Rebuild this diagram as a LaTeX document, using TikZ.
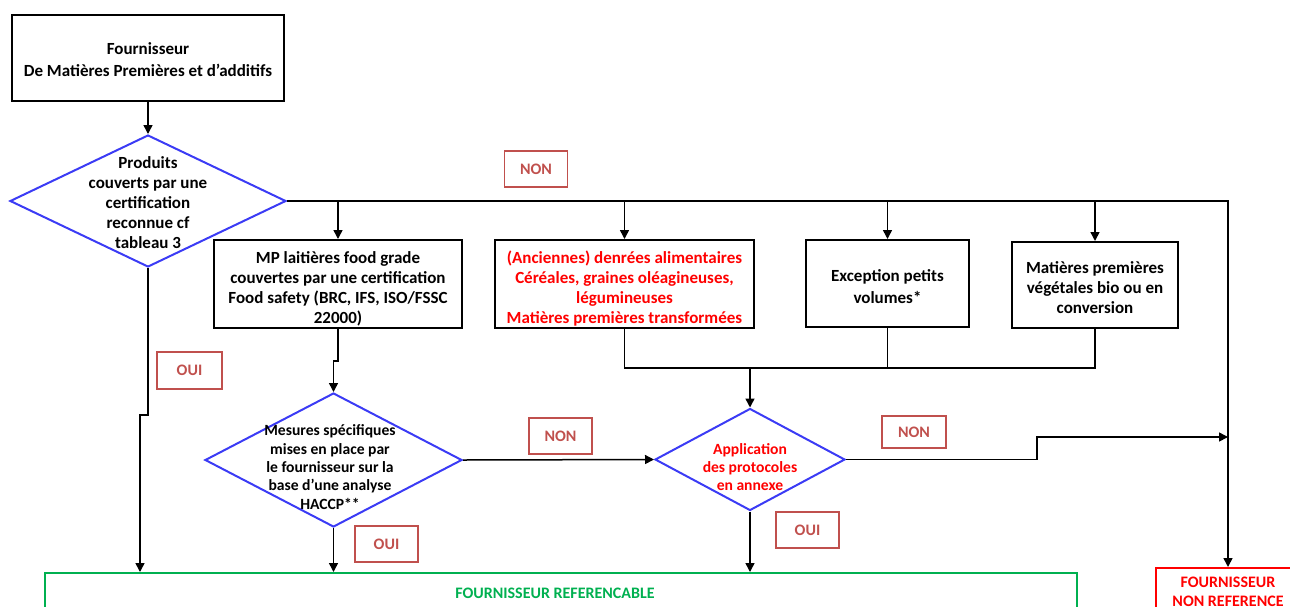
\documentclass[tikz,border=0pt]{standalone}
\usepackage{fontspec}
\setmainfont{Carlito}
\usetikzlibrary{shapes.geometric,arrows.meta}
\definecolor{diablue}{HTML}{3B3BF5}
\definecolor{labred}{HTML}{C0504D}
\definecolor{okgreen}{HTML}{00B050}
\definecolor{nored}{HTML}{FF0000}
\begin{document}
\begin{tikzpicture}[x=0.5pt,y=-0.5pt,
  box/.style={draw,line width=1pt,inner sep=0},
  btext/.style={align=center,font=\bfseries\fontsize{8.5}{10}\selectfont,inner sep=0},
  dia/.style={draw=diablue,shape=diamond,line width=1pt,inner sep=0},
  dtext/.style={align=center,font=\bfseries\fontsize{8.5}{10}\selectfont,inner sep=0},
  lab/.style={draw=labred,text=labred,line width=0.9pt,font=\bfseries\fontsize{8}{9}\selectfont,inner sep=0},
  arr/.style={-{Triangle[length=4.5pt,width=4.5pt]}},
  con/.style={line width=0.75pt}
]
\useasboundingbox (0,0) rectangle (1290,606);
\clip (0,0) rectangle (1290,606);

% boxes
\node[box,minimum width=136pt,minimum height=43pt] (b1) at (148,58) {};
\node[btext,font=\bfseries\fontsize{8.5}{11}\selectfont] (b1t) at (148,60)
  {Fournisseur\\De Matières Premières et d’additifs};
\node[dia,minimum width=138pt,minimum height=66pt] (d1) at (148,201) {};
\node[dtext] (d1t) at (148,203) {Produits\\couverts par une\\certification\\reconnue cf\\tableau 3};

\node[box,minimum width=124pt,minimum height=44pt] (b2) at (338,284) {};
\node[btext] (b2t) at (338,289)
  {MP laitières food grade\\couvertes par une certification\\Food safety (BRC, IFS, ISO/FSSC\\22000)};
\node[box,minimum width=129.5pt,minimum height=44pt] (b3) at (624.5,284) {};
\node[btext,text=nored] (b3t) at (624.5,289)
  {(Anciennes) denrées alimentaires\\Céréales, graines oléagineuses,\\légumineuses\\Matières premières transformées};
\node[box,minimum width=81.5pt,minimum height=43.5pt] (b4) at (887.5,283.5) {};
\node[btext,font=\bfseries\fontsize{8.5}{11}\selectfont] (b4t) at (887.5,287)
  {Exception petits\\volumes*};
\node[box,minimum width=83pt,minimum height=43pt] (b5) at (1095,285) {};
\node[btext] (b5t) at (1095,288)
  {Matières premières\\végétales bio ou en\\conversion};

\node[dia,minimum width=128.5pt,minimum height=67pt] (d2) at (333.5,460) {};
\node[dtext,font=\bfseries\fontsize{7.8}{9.2}\selectfont] (d2t) at (330,467)
  {Mesures spécifiques\\mises en place par\\le fournisseur sur la\\base d’une analyse\\HACCP**};
\node[dia,minimum width=95pt,minimum height=51pt] (d3) at (750,459.5) {};
\node[dtext,text=nored,font=\bfseries\fontsize{7.8}{9.2}\selectfont] (d3t) at (750,467)
  {Application\\des protocoles\\en annexe};

\node[draw=okgreen,line width=1pt,minimum width=516pt,minimum height=40pt,anchor=north west,inner sep=0] (g) at (44,572) {};
\node[text=okgreen,font=\bfseries\fontsize{8}{9}\selectfont] (gt) at (555,593) {FOURNISSEUR REFERENCABLE};
\node[draw=nored,line width=1pt,minimum width=73pt,minimum height=40pt,anchor=north west,inner sep=0] (nr) at (1155,567) {};
\node[text=nored,align=center,font=\bfseries\fontsize{8}{9.5}\selectfont,anchor=north] (nrt) at (1228,570) {FOURNISSEUR\\NON REFERENCE};

% labels
\node[lab,minimum width=31.5pt,minimum height=18pt] (l1) at (536,169) {NON};
\node[lab,minimum width=32.5pt,minimum height=18.5pt] (l2) at (189.5,370.5) {OUI};
\node[lab,minimum width=31.5pt,minimum height=18pt] (l3) at (560.5,436) {NON};
\node[lab,minimum width=32pt,minimum height=16pt] (l4) at (914,432) {NON};
\node[lab,minimum width=31.5pt,minimum height=18pt] (l5) at (386.5,544) {OUI};
\node[lab,minimum width=31.5pt,minimum height=18pt] (l6) at (807.5,530) {OUI};

% coordinates
\coordinate (cR) at (1228,200);
\coordinate (m) at (750,368);
\coordinate (j1) at (0,361);
\coordinate (j2) at (140,415);
\coordinate (s1) at (1037,437);
\coordinate (s2) at (1228,437);

% connectors
\draw[con,arr] (b1) -- (d1);
\draw[con] (d1.east) -- (d1.east -| cR) -- (cR);
\draw[con,arr] (cR) -- (nr.north -| cR);
\draw[con,arr] (b2.north |- cR) -- (b2.north);
\draw[con,arr] (b3.north |- cR) -- (b3.north);
\draw[con,arr] (b4.north |- cR) -- (b4.north);
\draw[con,arr] (b5.north |- cR) -- (b5.north);
\draw[con] (b3.south) -- (b3.south |- m) -- (b5.south |- m) -- (b5.south);
\draw[con] (b4.south) -- (b4.south |- m);
\draw[con,arr] (m) -- (d3.north);
\draw[con,arr] (b2.south) -- (b2.south |- j1) -- (d2.north |- j1) -- (d2.north);
\draw[con,arr] (d2.east) -- (d3.west);
\draw[con,arr] (d3.east) -| (s1) -- (s2);
\draw[con,arr] (d3.south) -- (d3.south |- g.north);
\draw[con,arr] (d2.south) -- (d2.south |- g.north);
\draw[con,arr] (d1.south) -- (d1.south |- j2) -- (j2) -- (j2 |- g.north);
\end{tikzpicture}
\end{document}
